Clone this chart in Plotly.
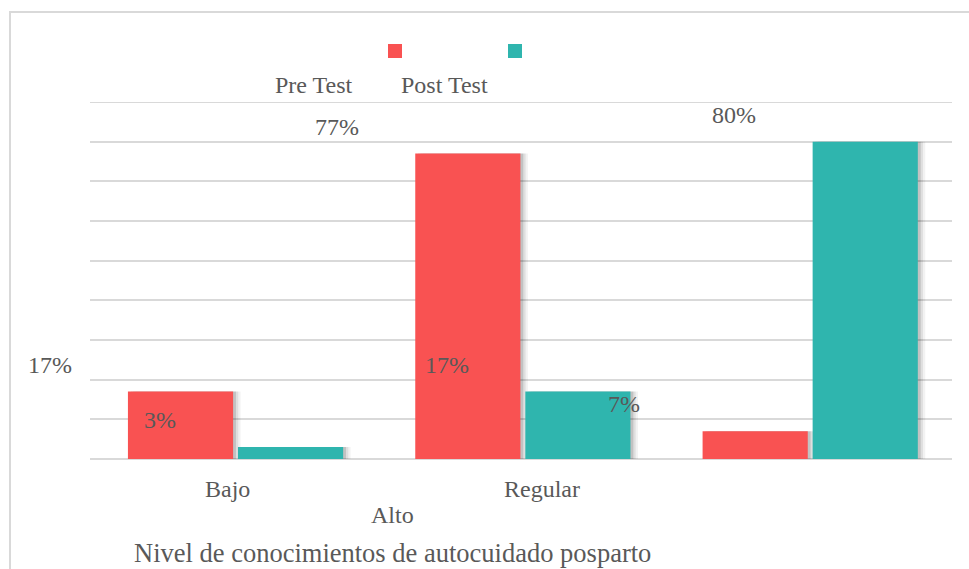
import plotly.graph_objects as go

categories = ["Bajo", "Regular", "Alto"]
pre_test = [17, 77, 7]
post_test = [3, 17, 80]
series_names = ["Pre Test", "Post Test"]
axis_title = "Nivel de conocimientos de autocuidado posparto"

PRE_COLOR = "#F95252"
POST_COLOR = "#2FB5AE"
TEXT_COLOR = "#595959"
GRID_COLOR = "#D9D9D9"
FONT = "Times New Roman, Liberation Serif, DejaVu Serif, serif"
LABEL_SIZE = 24
TITLE_SIZE = 26.5

W, H = 969, 569
L, R, T, B = 90, 17, 102, 110
PW, PH = W - L - R, H - T - B


def px_x(px):
    return (px - L) / PW


def px_y(py):
    return (H - B - py) / PH


BAR_W = 0.366
OFFSETS = [-0.368, 0.015]

fig = go.Figure()

# soft drop shadow behind each bar
for off, vals in zip(OFFSETS, [pre_test, post_test]):
    for dx, alpha in [(0.026, 0.05), (0.018, 0.08), (0.010, 0.13)]:
        fig.add_trace(go.Bar(
            x=categories, y=vals, offset=off + dx, width=BAR_W,
            marker=dict(color=f"rgba(0,0,0,{alpha})", line_width=0),
            hoverinfo="skip", showlegend=False,
        ))

for name, off, vals, color in zip(series_names, OFFSETS,
                                  [pre_test, post_test], [PRE_COLOR, POST_COLOR]):
    fig.add_trace(go.Bar(
        x=categories, y=vals, name=name, offset=off, width=BAR_W,
        marker=dict(color=color, line_width=0), showlegend=False,
    ))

# value labels
annotations = []
for off, vals in zip(OFFSETS, [pre_test, post_test]):
    center_px = (off + BAR_W / 2) * (PW / 3)
    for cat, v in zip(categories, vals):
        annotations.append(dict(
            x=cat, y=v, xref="x", yref="y", text=f"{v}%", showarrow=False,
            xshift=center_px - 131, yshift=27, yanchor="middle",
            font=dict(family=FONT, size=LABEL_SIZE, color=TEXT_COLOR),
        ))

# category labels
for text, cx, cy in [("Bajo", 227.5, 489), ("Regular", 541.5, 489), ("Alto", 392.5, 515)]:
    annotations.append(dict(
        x=px_x(cx), y=px_y(cy), xref="paper", yref="paper", text=text,
        showarrow=False, xanchor="center", yanchor="middle",
        font=dict(family=FONT, size=LABEL_SIZE, color=TEXT_COLOR),
    ))

annotations.append(dict(
    x=px_x(392.5), y=px_y(553), xref="paper", yref="paper", text=axis_title,
    showarrow=False, xanchor="center", yanchor="middle",
    font=dict(family=FONT, size=TITLE_SIZE, color=TEXT_COLOR),
))

# legend
shapes = []
for (name, color, sq_x, tx_x) in zip(series_names, [PRE_COLOR, POST_COLOR],
                                     [388, 508], [313.5, 444.5]):
    shapes.append(dict(
        type="rect", xref="paper", yref="paper",
        x0=px_x(sq_x), x1=px_x(sq_x + 14), y0=px_y(58), y1=px_y(44),
        fillcolor=color, line_width=0,
    ))
    annotations.append(dict(
        x=px_x(tx_x), y=px_y(85), xref="paper", yref="paper", text=name,
        showarrow=False, xanchor="center", yanchor="middle",
        font=dict(family=FONT, size=LABEL_SIZE, color=TEXT_COLOR),
    ))

# top gridline at the edge of the value range
shapes.append(dict(
    type="line", xref="paper", yref="y", x0=0, x1=1, y0=90, y1=90,
    line=dict(color=GRID_COLOR, width=2), layer="below",
))

# outer chart border
shapes.append(dict(
    type="rect", xref="paper", yref="paper",
    x0=px_x(10), x1=px_x(W + 20), y0=px_y(H + 20), y1=px_y(12),
    line=dict(color=GRID_COLOR, width=2), fillcolor="rgba(0,0,0,0)", layer="below",
))

fig.update_layout(
    width=W, height=H, autosize=False,
    margin=dict(l=L, r=R, t=T, b=B, pad=0),
    paper_bgcolor="white", plot_bgcolor="white",
    barmode="overlay",
    showlegend=False,
    font=dict(family=FONT, size=LABEL_SIZE, color=TEXT_COLOR),
    xaxis=dict(range=[-0.5, 2.5], showticklabels=False, showgrid=False,
               zeroline=False, showline=False, ticks=""),
    yaxis=dict(range=[0, 90], dtick=10, showticklabels=False,
               showgrid=True, gridcolor=GRID_COLOR, gridwidth=2,
               zeroline=True, zerolinecolor=GRID_COLOR, zerolinewidth=2,
               showline=False, ticks=""),
    annotations=annotations,
    shapes=shapes,
)

fig.write_html("out.html")
